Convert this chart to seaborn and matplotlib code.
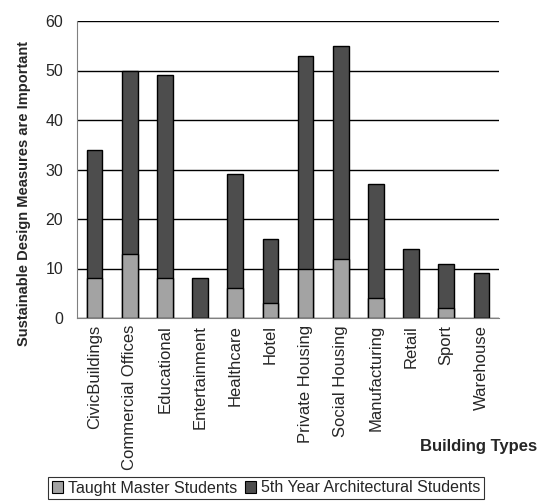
import matplotlib
matplotlib.use("Agg")
import matplotlib.pyplot as plt
from matplotlib.patches import Patch
import seaborn as sns
import pandas as pd
import numpy as np

categories = ["CivicBuildings", "Commercial Offices", "Educational", "Entertainment",
              "Healthcare", "Hotel", "Private Housing", "Social Housing",
              "Manufacturing", "Retail", "Sport", "Warehouse"]
taught_master = [8, 13, 8, 0, 6, 3, 10, 12, 4, 0, 2, 0]
fifth_year = [26, 37, 41, 8, 23, 13, 43, 43, 23, 14, 9, 9]
y_ticks = [0, 10, 20, 30, 40, 50, 60]

LIGHT = "#a3a3a3"
DARK = "#4d4d4d"

sns.set_style("white")
plt.rcParams["font.family"] = ["Liberation Sans", "DejaVu Sans"]

df = pd.DataFrame({
    "type": categories,
    "taught": taught_master,
    "fifth": fifth_year,
})
df["total"] = df["taught"] + df["fifth"]

fig = plt.figure(figsize=(5.41, 5.04), dpi=100)
ax = fig.add_axes([77 / 541, 1 - 318 / 504, (499 - 77) / 541, (318 - 21) / 504])

# stacked columns: full height in dark, lower segment in light on top
sns.barplot(data=df, x="type", y="total", color=DARK, width=0.45,
            edgecolor="black", linewidth=1.0, saturation=1, ax=ax)
sns.barplot(data=df, x="type", y="taught", color=LIGHT, width=0.45,
            edgecolor="black", linewidth=1.0, saturation=1, ax=ax)

ax.set_xlim(-0.5, len(categories) - 0.5)
ax.set_ylim(0, 60)
ax.set_yticks(y_ticks)
ax.yaxis.grid(True, color="black", linewidth=1.0)
ax.set_axisbelow(True)

for side in ["top", "right"]:
    ax.spines[side].set_visible(False)
ax.spines["left"].set_color("#808080")
ax.spines["bottom"].set_color("#808080")

ax.set_xticks(np.arange(len(categories)))
ax.set_xticklabels(categories, rotation=90, fontsize=12)
ax.set_xticks(np.arange(len(categories) + 1) - 0.5, minor=True)
ax.tick_params(axis="x", which="major", length=0, pad=5)
ax.tick_params(axis="x", which="minor", length=5, width=1, color="#808080", direction="out")
ax.tick_params(axis="y", length=5, width=1, color="#808080", direction="out", labelsize=11.5, pad=5)

ax.set_xlabel("")
ax.set_ylabel("")
fig.text(24 / 541, 1 - 193 / 504, "Sustainable Design Measures are Important",
         rotation=90, ha="center", va="center", fontsize=10.5, fontweight="bold")
fig.text(537 / 541, 1 - 447 / 504, "Building Types", ha="right", va="center",
         fontsize=12, fontweight="bold")

handles = [Patch(facecolor=LIGHT, edgecolor="black", linewidth=0.8),
           Patch(facecolor=DARK, edgecolor="black", linewidth=0.8)]
leg = fig.legend(handles, ["Taught Master Students", "5th Year Architectural Students"],
                 loc="center", bbox_to_anchor=(266 / 541, 1 - 488 / 504), ncol=2,
                 fontsize=11.5, frameon=True, fancybox=False, handlelength=0.7,
                 handleheight=0.7, handletextpad=0.3, columnspacing=0.5,
                 borderpad=0.25, borderaxespad=0)
leg.get_frame().set_edgecolor("black")
leg.get_frame().set_linewidth(0.8)

fig.savefig("out.png", dpi=100)
